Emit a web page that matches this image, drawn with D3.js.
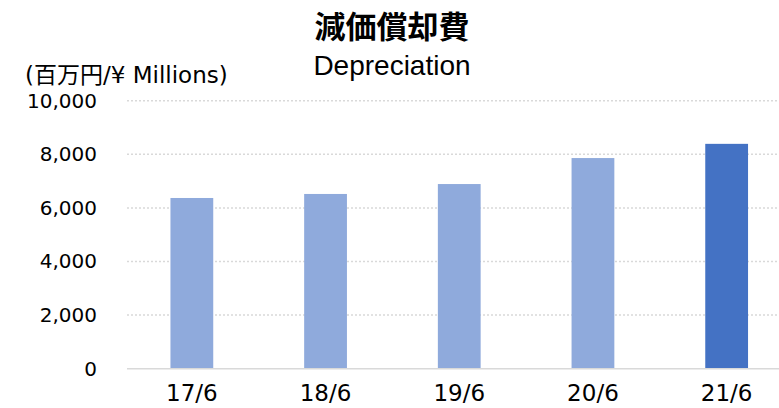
<!DOCTYPE html>
<html lang="ja">
<head>
<meta charset="utf-8">
<script src="https://cdn.jsdelivr.net/npm/d3@7"></script>
<style>
  body { margin: 0; background: #fff; }
  text { fill: #000; }
</style>
</head>
<body>
<script>
  // data
  var years = ["17/6", "18/6", "19/6", "20/6", "21/6"];
  var depreciation = [6370, 6520, 6890, 7860, 8390];
  var barColors = ["#8faadc", "#8faadc", "#8faadc", "#8faadc", "#4472c4"];
  var yTicks = [0, 2000, 4000, 6000, 8000, 10000];

  const w = 779;
  const h = 408;
  const jp = "'DejaVu Sans', 'Noto Sans CJK JP', sans-serif";

  const xScale = d3.scaleBand()
    .domain(years)
    .range([125, 793.5])
    .paddingInner(0.68)
    .paddingOuter(0.34);

  const yScale = d3.scaleLinear()
    .domain([0, 10000])
    .range([368.7, 100.7]);

  const svg = d3.select("body")
    .append("svg")
    .attr("width", w)
    .attr("height", h);

  // gridlines
  svg.append("g")
    .selectAll("line")
    .data(yTicks.filter(d => d > 0))
    .enter()
    .append("line")
    .attr("x1", 127)
    .attr("x2", w)
    .attr("y1", d => yScale(d))
    .attr("y2", d => yScale(d))
    .attr("stroke", "#d9d9d9")
    .attr("stroke-width", 1.5)
    .attr("stroke-dasharray", "2,2");

  svg.selectAll("rect")
    .data(depreciation)
    .enter()
    .append("rect")
    .attr("x", (d, i) => xScale(years[i]))
    .attr("y", d => yScale(d))
    .attr("width", xScale.bandwidth())
    .attr("height", d => yScale(0) - yScale(d))
    .attr("fill", (d, i) => barColors[i]);

  // zero axis line
  svg.append("line")
    .attr("x1", 127)
    .attr("x2", w)
    .attr("y1", yScale(0))
    .attr("y2", yScale(0))
    .attr("stroke", "#d9d9d9")
    .attr("stroke-width", 1.5);

  const yAxis = d3.axisLeft(yScale)
    .tickValues(yTicks)
    .tickFormat(d3.format(","))
    .tickSize(0)
    .tickPadding(0);
  const yg = svg.append("g")
    .attr("transform", "translate(97,0)")
    .call(yAxis);
  yg.select(".domain").remove();
  yg.selectAll("text")
    .style("font-family", jp)
    .style("font-size", "20px")
    .attr("fill", "#000");

  const xAxis = d3.axisBottom(xScale)
    .tickSize(0)
    .tickPadding(0);
  const xg = svg.append("g")
    .attr("transform", "translate(0,385)")
    .call(xAxis);
  xg.select(".domain").remove();
  xg.selectAll("text")
    .style("font-family", jp)
    .style("font-size", "23px")
    .attr("fill", "#000");

  svg.append("text")
    .attr("x", 392)
    .attr("y", 38)
    .attr("text-anchor", "middle")
    .style("font-family", "'Noto Sans CJK JP', sans-serif")
    .style("font-weight", "bold")
    .style("font-size", "31px")
    .text("減価償却費");

  svg.append("text")
    .attr("x", 392)
    .attr("y", 75)
    .attr("text-anchor", "middle")
    .style("font-family", "'Liberation Sans', Arial, sans-serif")
    .style("font-size", "28px")
    .text("Depreciation");

  svg.append("text")
    .attr("x", 25)
    .attr("y", 83)
    .style("font-family", jp)
    .style("font-size", "23px")
    .text("(百万円/¥ Millions)");
</script>
</body>
</html>
